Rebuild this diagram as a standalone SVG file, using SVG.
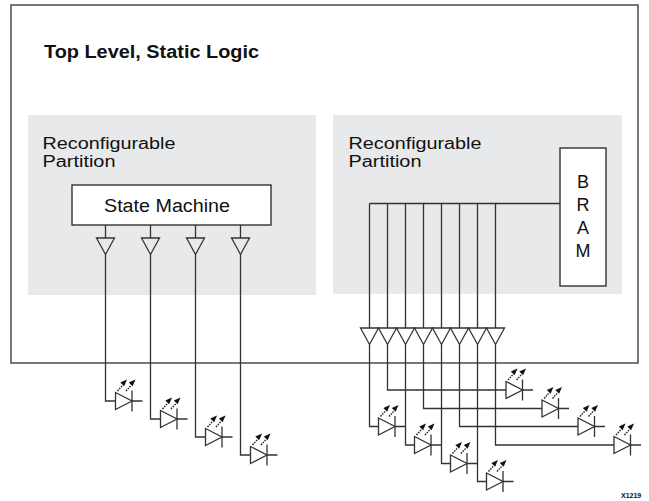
<svg xmlns="http://www.w3.org/2000/svg" xmlns:xlink="http://www.w3.org/1999/xlink" width="649" height="501" viewBox="0 0 649 501">
<style>
.ln{fill:none;stroke:#333;stroke-width:1.3}
.box{fill:#fff;stroke:#333;stroke-width:1.4}
.outer{fill:#fff;stroke:#555;stroke-width:1.6}
.part{fill:#e8e9ea;stroke:none}
.t{font-family:"Liberation Sans",Arial,Helvetica,sans-serif;font-size:18px;fill:#111}
.s{font-size:16px}
.b{font-weight:bold}
.dot{fill:none;stroke:#222;stroke-width:1.4;stroke-dasharray:1.6 1}
.hd{fill:#111;stroke:none}
</style>
<defs>
<path id="buf" class="ln" d="M-9,0 H9 L0,16.5 Z" fill="none"/>
<g id="led">
<path class="ln" d="M0,-8.5 L16.5,0 L0,8.5 Z"/>
<path class="ln" d="M16.5,-10.5 V10.5 M16.5,0 H27"/>
<path class="dot" d="M2,-10 L7,-15.5"/>
<polygon class="hd" points="11.5,-21.5 4.8,-18.6 8.6,-14.8"/>
<path class="dot" d="M10.5,-10 L15.5,-15.5"/>
<polygon class="hd" points="20,-21.5 13.3,-18.6 17.1,-14.8"/>
</g>
</defs>

<g id="top-level">
<rect class="outer" x="11" y="5" width="627" height="358"/>
<text class="t b" x="44" y="58" textLength="215" lengthAdjust="spacingAndGlyphs">Top Level, Static Logic</text>
</g>

<g id="partition-left">
<rect class="part" x="28" y="115" width="288" height="180"/>
<text class="t s" x="42.5" y="148.5" textLength="133" lengthAdjust="spacingAndGlyphs">Reconfigurable</text>
<text class="t s" x="42.5" y="166.5" textLength="73" lengthAdjust="spacingAndGlyphs">Partition</text>
</g>

<g id="partition-right">
<rect class="part" x="333" y="115" width="289" height="179"/>
<text class="t s" x="348.5" y="148.5" textLength="133" lengthAdjust="spacingAndGlyphs">Reconfigurable</text>
<text class="t s" x="348.5" y="166.5" textLength="73" lengthAdjust="spacingAndGlyphs">Partition</text>
</g>

<g id="state-machine">
<rect class="box" x="72" y="185" width="199" height="40"/>
<text class="t" x="104" y="211.5" textLength="126" lengthAdjust="spacingAndGlyphs">State Machine</text>
</g>

<g id="bram">
<rect class="box" x="560" y="148" width="46" height="138"/>
<text class="t" x="583" y="188" text-anchor="middle">B</text>
<text class="t" x="583" y="211" text-anchor="middle">R</text>
<text class="t" x="583" y="234" text-anchor="middle">A</text>
<text class="t" x="583" y="257" text-anchor="middle">M</text>
</g>

<g id="connectors">
<path class="ln" d="M105.5,225 V238 M105.5,254.5 V401 H115.5"/>
<path class="ln" d="M150.5,225 V238 M150.5,254.5 V419 H160.5"/>
<path class="ln" d="M195.5,225 V238 M195.5,254.5 V437 H205.5"/>
<path class="ln" d="M240.5,225 V238 M240.5,254.5 V455 H250.5"/>
<path class="ln" d="M369.5,203.5 H560"/>
<path class="ln" d="M369.5,203.5 V328 M369.5,344.5 V426.5 H378.5"/>
<path class="ln" d="M387.5,203.5 V328 M387.5,344.5 V390 H506"/>
<path class="ln" d="M405.5,203.5 V328 M405.5,344.5 V445 H414.5"/>
<path class="ln" d="M423.5,203.5 V328 M423.5,344.5 V408.5 H542"/>
<path class="ln" d="M441.5,203.5 V328 M441.5,344.5 V463.5 H450.5"/>
<path class="ln" d="M459.5,203.5 V328 M459.5,344.5 V426.5 H578"/>
<path class="ln" d="M477.5,203.5 V328 M477.5,344.5 V481.5 H486.5"/>
<path class="ln" d="M495.5,203.5 V328 M495.5,344.5 V445 H614"/>
</g>

<g id="buffers-left">
<g id="buf-l1"><use xlink:href="#buf" x="105.5" y="238"/></g>
<g id="buf-l2"><use xlink:href="#buf" x="150.5" y="238"/></g>
<g id="buf-l3"><use xlink:href="#buf" x="195.5" y="238"/></g>
<g id="buf-l4"><use xlink:href="#buf" x="240.5" y="238"/></g>
</g>
<g id="buffers-right">
<g id="buf-r1"><path class="ln" d="M360.5,328 H378.5 L369.5,344.5 Z"/></g>
<g id="buf-r2"><path class="ln" d="M378.5,328 H396.5 L387.5,344.5 Z"/></g>
<g id="buf-r3"><path class="ln" d="M396.5,328 H414.5 L405.5,344.5 Z"/></g>
<g id="buf-r4"><path class="ln" d="M414.5,328 H432.5 L423.5,344.5 Z"/></g>
<g id="buf-r5"><path class="ln" d="M432.5,328 H450.5 L441.5,344.5 Z"/></g>
<g id="buf-r6"><path class="ln" d="M450.5,328 H468.5 L459.5,344.5 Z"/></g>
<g id="buf-r7"><path class="ln" d="M468.5,328 H486.5 L477.5,344.5 Z"/></g>
<g id="buf-r8"><path class="ln" d="M486.5,328 H504.5 L495.5,344.5 Z"/></g>
</g>

<g id="leds-left">
<g id="led-l1"><use xlink:href="#led" x="115.5" y="401"/></g>
<g id="led-l2"><use xlink:href="#led" x="160.5" y="419"/></g>
<g id="led-l3"><use xlink:href="#led" x="205.5" y="437"/></g>
<g id="led-l4"><use xlink:href="#led" x="250.5" y="455"/></g>
</g>
<g id="leds-right">
<g id="led-r1"><use xlink:href="#led" x="378.5" y="426.5"/></g>
<g id="led-r2"><use xlink:href="#led" x="506" y="390"/></g>
<g id="led-r3"><use xlink:href="#led" x="414.5" y="445"/></g>
<g id="led-r4"><use xlink:href="#led" x="542" y="408.5"/></g>
<g id="led-r5"><use xlink:href="#led" x="450.5" y="463.5"/></g>
<g id="led-r6"><use xlink:href="#led" x="578" y="426.5"/></g>
<g id="led-r7"><use xlink:href="#led" x="486.5" y="481.5"/></g>
<g id="led-r8"><use xlink:href="#led" x="614" y="445"/></g>
</g>

<text class="b" x="621" y="498" font-family="'Liberation Sans',Arial,sans-serif" font-size="7" fill="#111">X1219</text>
</svg>
